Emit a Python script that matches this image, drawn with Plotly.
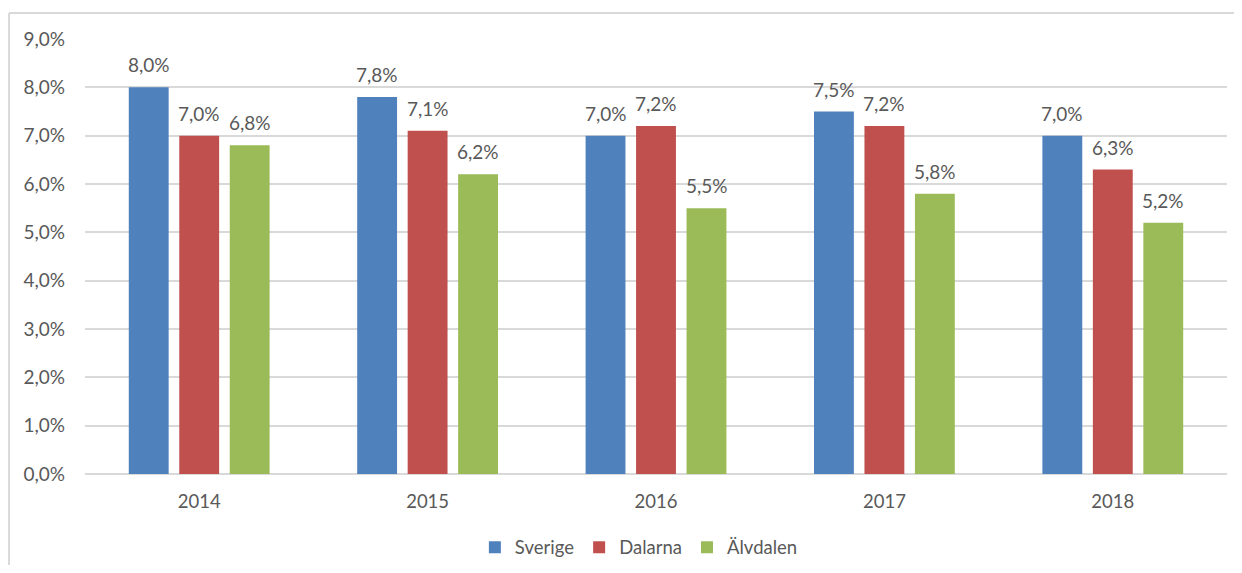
import plotly.graph_objects as go

years = ["2014", "2015", "2016", "2017", "2018"]
series_names = ["Sverige", "Dalarna", "Älvdalen"]
sverige = [0.080, 0.078, 0.070, 0.075, 0.070]
dalarna = [0.070, 0.071, 0.072, 0.072, 0.063]
alvdalen = [0.068, 0.062, 0.055, 0.058, 0.052]
y_ticks = [0.0, 0.01, 0.02, 0.03, 0.04, 0.05, 0.06, 0.07, 0.08, 0.09]

colors = ["#4F81BD", "#C0504D", "#9BBB59"]
all_series = [sverige, dalarna, alvdalen]
FONT = "Lato, Calibri, Carlito, sans-serif"
TXT = "#595959"

fig = go.Figure()
for name, vals, c in zip(series_names, all_series, colors):
    fig.add_trace(go.Bar(x=years, y=vals, name=name, marker=dict(color=c, line=dict(width=0))))

annotations = []
slot = 50.5
for i, vals in enumerate(all_series):
    for k, v in enumerate(vals):
        annotations.append(dict(
            x=k, y=v, xref="x", yref="y", text=f"{v*100:.1f}%".replace(".", ","),
            showarrow=False, yanchor="bottom", xshift=(i - 1) * slot, yshift=9,
            font=dict(family=FONT, size=19, color=TXT)))

fig.update_layout(
    width=1226, height=557,
    margin=dict(l=77, r=7, t=31, b=91, autoexpand=False),
    paper_bgcolor="white", plot_bgcolor="white",
    separators=", ",
    barmode="group", bargap=0.337, bargroupgap=0.21,
    font=dict(family=FONT, size=18, color=TXT),
    showlegend=True,
    legend=dict(orientation="h", x=0.485, xanchor="center",
                yref="container", y=0.031, yanchor="middle",
                font=dict(family=FONT, size=18.5, color=TXT), traceorder="normal",
                itemwidth=30),
    annotations=annotations,
    shapes=[
        dict(type="line", xref="paper", yref="paper", x0=-0.0665, x1=1.2, y0=1.0598, y1=1.0598,
             line=dict(color="#D9D9D9", width=2)),
        dict(type="line", xref="paper", yref="paper", x0=-0.0665, x1=-0.0665, y0=-0.5, y1=1.0598,
             line=dict(color="#D9D9D9", width=2)),
    ],
)
fig.update_yaxes(range=[0, 0.09], tickvals=y_ticks, tickformat=".1%", showgrid=True,
                 gridcolor="#D9D9D9", gridwidth=1.5, zeroline=True, zerolinecolor="#D9D9D9",
                 zerolinewidth=1.5, showline=False, ticklabelstandoff=19,
                 tickfont=dict(family=FONT, size=19, color=TXT))
fig.update_xaxes(type="category", range=[-0.5, len(years) - 0.5], showgrid=False, showline=False,
                 ticks="", ticklabelstandoff=14,
                 tickfont=dict(family=FONT, size=18.5, color=TXT))

fig.write_html("out.html")
